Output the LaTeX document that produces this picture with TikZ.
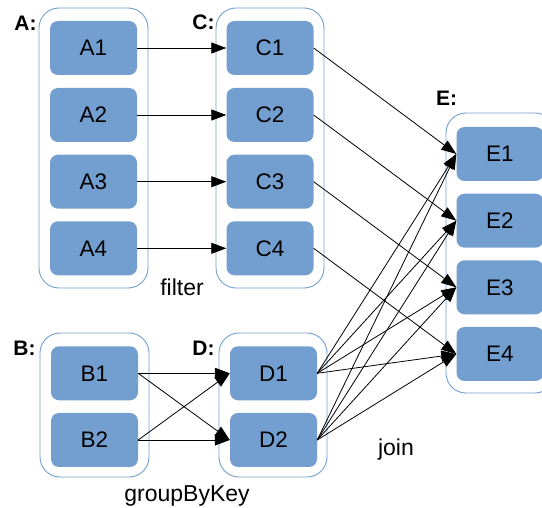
\documentclass[tikz,border=0pt]{standalone}
\usepackage{fontspec}
\setmainfont{Liberation Sans}
\usetikzlibrary{arrows.meta}
\definecolor{boxblue}{HTML}{729FCF}
\begin{document}
\begin{tikzpicture}[x=1pt,y=-1pt,
  item/.style={rectangle, rounded corners=8pt, fill=boxblue, draw=none,
    minimum width=87pt, minimum height=54pt, inner sep=0pt,
    font=\fontsize{22.5}{26}\selectfont},
  group/.style={rectangle, rounded corners=20pt, draw=boxblue, fill=white,
    line width=0.9pt, inner sep=0pt},
  tag/.style={font=\fontsize{21}{25}\selectfont\bfseries, inner sep=0pt},
  caption/.style={font=\fontsize{23}{27}\selectfont, inner sep=0pt, anchor=base},
  arr/.style={line width=0.8pt, -{Triangle[length=15pt,width=11pt]}}]
\clip (0,0) rectangle (542,508);
\fill[white] (0,0) rectangle (542,508);

% containers
\node[group, minimum width=109pt, minimum height=280pt] (GA) at (93.5,148) {};
\node[group, minimum width=108pt, minimum height=280pt] (GC) at (270,148) {};
\node[group, minimum width=109pt, minimum height=144pt] (GB) at (94.5,405) {};
\node[group, minimum width=108pt, minimum height=144pt] (GD) at (273,405) {};
\node[group, minimum width=109pt, minimum height=280pt] (GE) at (500.5,253) {};

% container labels
\node[tag] (LA) at (25.5,23.5) {A:};
\node[tag] (LC) at (203.5,22) {C:};
\node[tag] (LB) at (24.5,348) {B:};
\node[tag] (LD) at (203.5,348) {D:};
\node[tag] (LE) at (446.5,98) {E:};

% items
\foreach \i/\y in {1/48,2/115,3/181.7,4/248.3}{
  \node[item] (A\i) at (93.5,\y) {A\i};
  \node[item] (C\i) at (270,\y) {C\i};
}
\foreach \i/\y in {1/154,2/220.7,3/287.3,4/354}{
  \node[item] (E\i) at (500,\y) {E\i};
}
\foreach \i/\y in {1/373.3,2/440}{
  \node[item] (B\i) at (94.5,\y) {B\i};
  \node[item] (D\i) at (273.5,\y) {D\i};
}

% operation captions
\node[caption] (filter) at (182,296) {filter};
\node[caption] (group) at (187,502) {groupByKey};
\node[caption] (join) at (396,456) {join};

% filter: A -> C
\foreach \i in {1,...,4}{
  \draw[arr] (A\i.east) -- (C\i.west);
}
% C -> E
\foreach \i in {1,...,4}{
  \draw[arr] (C\i.east) -- (E\i.west);
}
% groupByKey: B -> D
\foreach \i in {1,2}{
  \foreach \j in {1,2}{
    \draw[arr] (B\i.east) -- (D\j.west);
  }
}
% join: D -> E
\foreach \i in {1,2}{
  \foreach \j in {1,...,4}{
    \draw[arr] (D\i.east) -- (E\j.west);
  }
}
\end{tikzpicture}
\end{document}
